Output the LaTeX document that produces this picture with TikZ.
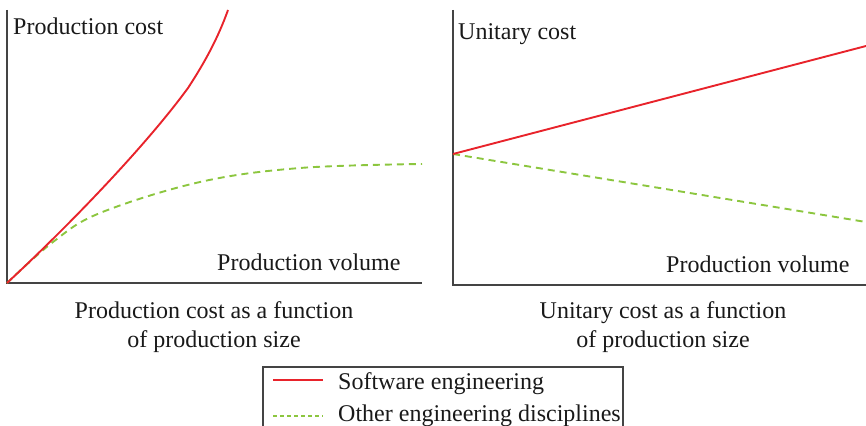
\documentclass[tikz,border=0pt]{standalone}
\usepackage{fontspec}
\setmainfont{Liberation Serif}
\definecolor{swred}{HTML}{E8232B}
\definecolor{othgreen}{HTML}{8CC63F}
\definecolor{axisgray}{HTML}{444444}
\tikzset{
  axisline/.style={draw=axisgray, line width=1.8pt},
  swcurve/.style={draw=swred, line width=1.9pt},
  othcurve/.style={draw=othgreen, line width=1.9pt, dash pattern=on 7pt off 5pt},
  lbl/.style={inner sep=0pt, anchor=base west, font=\fontsize{24}{28}\selectfont, text=black!90},
  captext/.style={inner sep=0pt, anchor=base, font=\fontsize{24}{28}\selectfont, text=black!90}
}
\begin{document}
\begin{tikzpicture}[x=1pt, y=-1pt]
\useasboundingbox (0,0) rectangle (866,425);

% left chart: production cost
\coordinate (L0) at (7,283);
\coordinate (Ltop) at (7,10);
\coordinate (Lend) at (422,283);
\draw[axisline] (Ltop) -- (L0) -- (Lend);
\draw[othcurve] plot[smooth, tension=0.6] coordinates {(7,283) (53,242) (100,213) (200,182) (300,168) (422,164)};
\draw[swcurve] (L0) .. controls (80,215) and (150,140) .. (188,88)
  .. controls (205,62) and (218,38) .. (228,10);
\node[lbl] (pcost) at (13,35) {Production cost};
\node[lbl] (pvolL) at (217,270) {Production volume};

% right chart: unitary cost
\coordinate (R0) at (453,285);
\coordinate (Rtop) at (453,10);
\coordinate (Rend) at (866,285);
\coordinate (Rstart) at (453,154);
\coordinate (Rred) at (866,46);
\coordinate (Rgreen) at (866,222);
\draw[axisline] (Rtop) -- (R0) -- (Rend);
\draw[othcurve] (Rstart) -- (Rgreen);
\draw[swcurve] (Rstart) -- (Rred);
\node[lbl] (ucost) at (458,40) {Unitary cost};
\node[lbl] (pvolR) at (666,272) {Production volume};

% captions
\node[captext] (capL1) at (214,318) {Production cost as a function};
\node[captext] (capL2) at (214,347) {of production size};
\node[captext] (capR1) at (663,318) {Unitary cost as a function};
\node[captext] (capR2) at (663,347) {of production size};

% legend
\draw[draw=axisgray, line width=1.3pt] (263,430) -- (263,367) -- (623,367) -- (623,430);
\coordinate (k1a) at (273,380);
\coordinate (k1b) at (323,380);
\coordinate (k2a) at (273,416);
\coordinate (k2b) at (323,416);
\draw[draw=swred, line width=1.5pt] (k1a) -- (k1b);
\draw[draw=othgreen, line width=1.5pt, dash pattern=on 4pt off 3pt] (k2a) -- (k2b);
\node[lbl] (sw) at (338,389) {Software engineering};
\node[lbl] (oth) at (338,421) {Other engineering disciplines};
\end{tikzpicture}
\end{document}
